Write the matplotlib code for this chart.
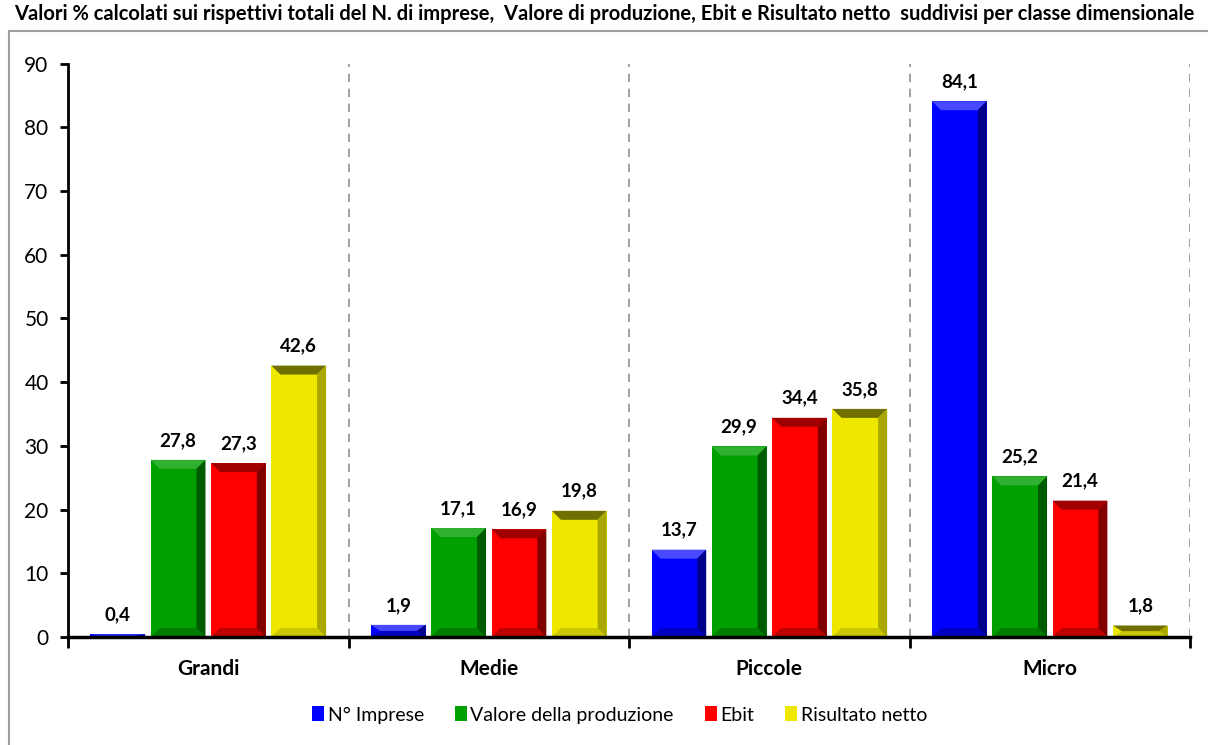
import matplotlib
matplotlib.use("Agg")
import matplotlib.pyplot as plt
from matplotlib.patches import Polygon, Rectangle
import numpy as np

plt.rcParams['font.family'] = ['Lato', 'DejaVu Sans']

# Data
categories = ['Grandi', 'Medie', 'Piccole', 'Micro']
series = ['N° Imprese', 'Valore della produzione', 'Ebit', 'Risultato netto']
n_imprese = [0.4, 1.9, 13.7, 84.1]
valore_prod = [27.8, 17.1, 29.9, 25.2]
ebit = [27.3, 16.9, 34.4, 21.4]
risultato = [42.6, 19.8, 35.8, 1.8]
values = [n_imprese, valore_prod, ebit, risultato]
labels = [[f"{v:.1f}".replace('.', ',') for v in s] for s in values]

colors = ['#0000FF', '#00A000', '#FF0000', '#EEE800']
top_cols = ['#4848FF', '#30B030', '#A00000', '#707000']
side_cols = ['#00008A', '#005A00', '#800000', '#A8A800']

title = ("Valori % calcolati sui rispettivi totali del N. di imprese,  Valore di produzione, "
         "Ebit e Risultato netto  suddivisi per classe dimensionale")

fig = plt.figure(figsize=(12.08, 7.45), dpi=100)
ax = fig.add_axes([0.0563, 0.145, 0.9289, 0.7696])

# outer frame
fig.patches.append(Rectangle((9 / 1208, -0.01), 1.1, 1 - 31 / 745 + 0.01,
                             transform=fig.transFigure, fill=False,
                             edgecolor='#A0A0A0', lw=1.5, zorder=0))
fig.text(0.5, 1 - 14 / 745, title, ha='center', va='center',
         fontsize=14.5, fontweight='bold')

bar_w = 0.195
step = 0.215
offsets = (np.arange(4) - 1.5) * step
x = np.arange(len(categories)) + 0.5

ax.set_xlim(0, 4)
ax.set_ylim(0, 90)
px_x = 4 / 1122.0
px_y = 90 / 574.0
bev_x = 9 * px_x
bev_y = 9 * px_y

for j, s in enumerate(values):
    bars = ax.bar(x + offsets[j], s, bar_w, color=colors[j], label=series[j], zorder=3)
    for b, lab in zip(bars, labels[j]):
        x0, w, h = b.get_x(), b.get_width(), b.get_height()
        x1 = x0 + w
        by = min(bev_y, h / 2)
        bx = min(bev_x, w / 2)
        # top bevel
        ax.add_patch(Polygon([(x0, h), (x1, h), (x1 - bx, h - by), (x0 + bx, h - by)],
                             closed=True, color=top_cols[j], lw=0, zorder=4))
        # right bevel
        ax.add_patch(Polygon([(x1, h), (x1, 0), (x1 - bx, by), (x1 - bx, h - by)],
                             closed=True, color=side_cols[j], lw=0, zorder=4))
        # bottom bevel
        ax.add_patch(Polygon([(x0, 0), (x1, 0), (x1 - bx, by), (x0 + bx, by)],
                             closed=True, color=side_cols[j], alpha=0.5, lw=0, zorder=4))
        ax.annotate(lab, (b.get_x() + w / 2, h), xytext=(0, 8), textcoords='offset points',
                    ha='center', va='bottom', fontsize=13.5, fontweight='bold')

for gx in [1, 2, 3, 4]:
    ax.axvline(gx, color='#909090', ls=(0, (5, 4)), lw=1.2, zorder=1)

ax.set_yticks(np.arange(0, 91, 10))
ax.tick_params(axis='y', labelsize=15, length=6, width=2, direction='out', pad=8)
ax.set_xticks([0, 1, 2, 3, 4])
ax.set_xticklabels([])
ax.tick_params(axis='x', length=8, width=2, direction='out')
ax.set_xticks(x, minor=True)
ax.set_xticklabels(categories, minor=True, fontsize=15, fontweight='bold')
ax.tick_params(axis='x', which='minor', length=0, pad=16)

for sp in ['top', 'right']:
    ax.spines[sp].set_visible(False)
ax.spines['left'].set_linewidth(2)
ax.spines['bottom'].set_linewidth(2.5)
ax.spines['bottom'].set_zorder(5)

leg = fig.legend(loc='center', bbox_to_anchor=(0.513, 1 - 715 / 745), ncol=4,
                 frameon=False, fontsize=14, handlelength=0.6, handleheight=0.8,
                 handletextpad=0.2, columnspacing=1.6)

fig.savefig('out.png', dpi=100)
